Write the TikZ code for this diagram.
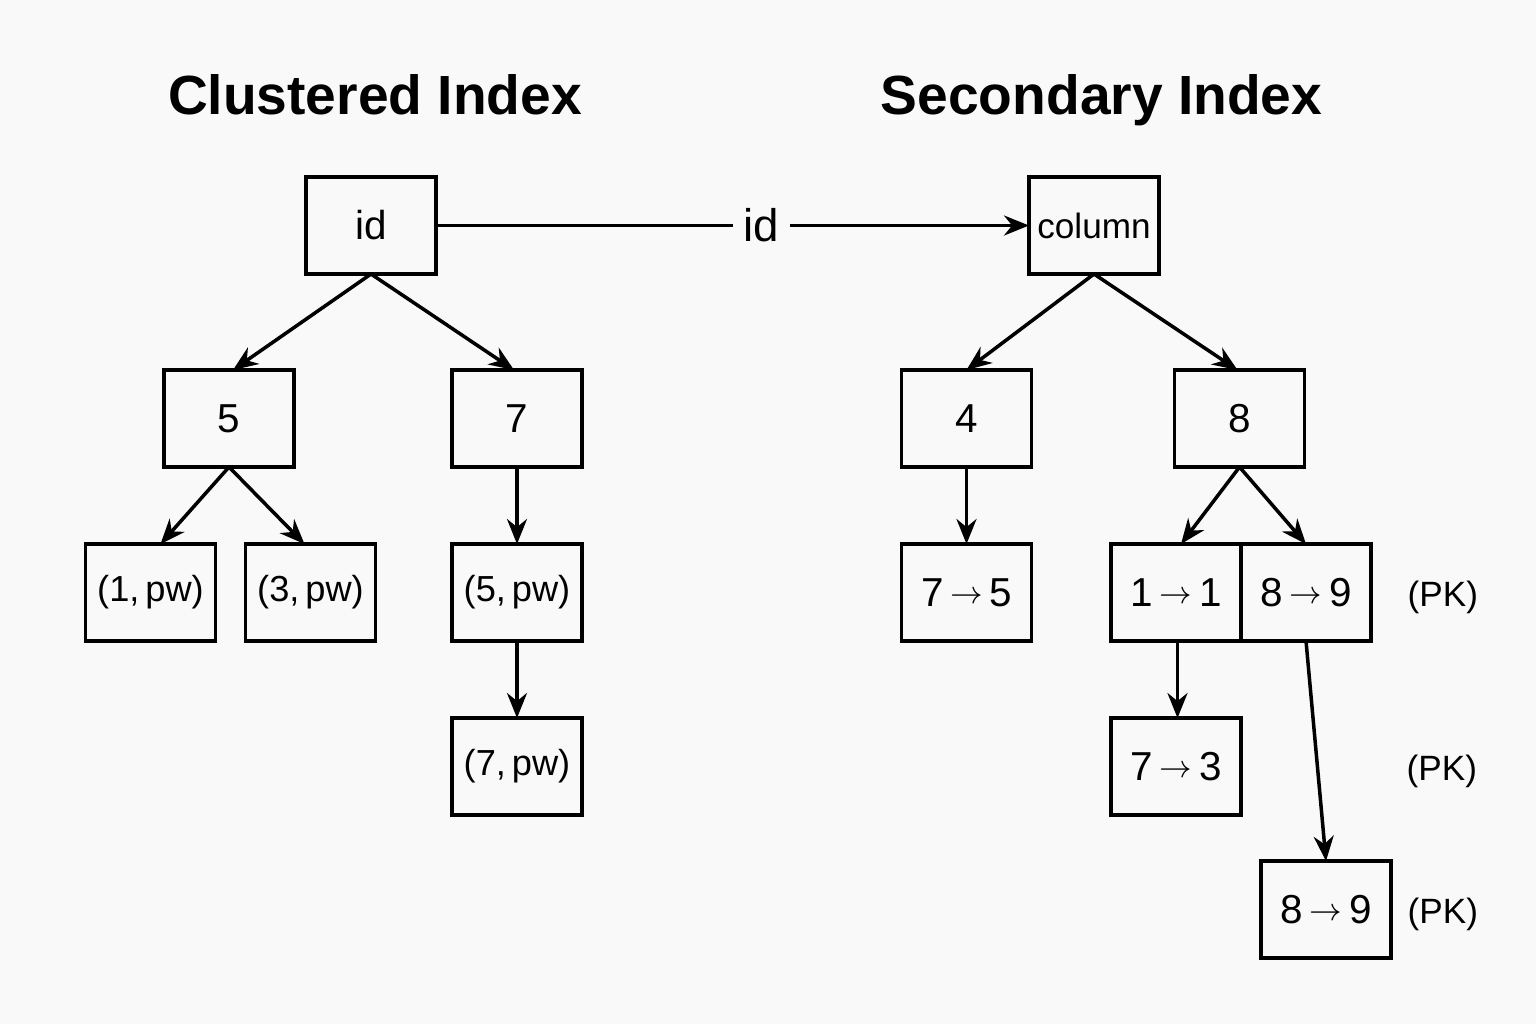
\documentclass[tikz,border=0pt]{standalone}
\usepackage{fontspec}
\setmainfont{Liberation Sans}
\usetikzlibrary{arrows.meta,positioning}
\definecolor{paper}{RGB}{249,249,249}
\newcommand{\maparrow}{\,\raisebox{0.9pt}{\fontsize{9.5}{10}\selectfont$\rightarrow$}\,}

\begin{document}
\begin{tikzpicture}[
    box/.style={draw, rectangle, minimum width=1.3cm, minimum height=0.97cm, inner sep=0pt, outer sep=0pt, line width=1pt, font=\fontsize{11.5}{14}\selectfont},
    pair/.style={box, font=\fontsize{10.3}{13}\selectfont},
    title/.style={font=\bfseries\fontsize{15.7}{19}\selectfont, inner sep=0pt, text depth=0pt},
    note/.style={inner sep=0pt, yshift=-0.05cm, font=\fontsize{10}{12}\selectfont},
    arrow/.style={-{Stealth[length=2.5mm,width=2mm]}, line width=1pt}
]
    \fill[paper] (0,0) rectangle (15.36,-10.24);
    \useasboundingbox (0,0) rectangle (15.36,-10.24);

    % Roots
    \node[box] (id) at (3.71,-2.255) {id};
    \node[right=2.97cm of id, inner sep=0.1cm, font=\fontsize{13}{15}\selectfont] (key) {id};
    \node[box, right=5.93cm of id, font=\fontsize{10}{12}\selectfont] (column) {column};

    % Titles
    \node[title, above=0.62cm of id, xshift=0.04cm] (clustered) {Clustered Index};
    \node[title, above=0.62cm of column, xshift=0.075cm] (secondary) {Secondary Index};

    % Clustered index
    \node[box, below=0.96cm of id, xshift=-1.42cm] (five) {5};
    \node[box, right=1.58cm of five] (seven) {7};
    \node[pair, below=0.77cm of five, xshift=-0.785cm] (row1) {(1,\,pw)};
    \node[pair, right=0.30cm of row1] (row3) {(3,\,pw)};
    \node[pair, below=0.77cm of seven] (row5) {(5,\,pw)};
    \node[pair, below=0.77cm of row5] (row7) {(7,\,pw)};

    % Secondary index
    \node[box, below=0.96cm of column, xshift=-1.275cm] (four) {4};
    \node[box, right=1.43cm of four] (eight) {8};
    \node[box, below=0.77cm of four] (map75) {7\maparrow 5};
    \node[box, below=0.77cm of eight, xshift=-0.635cm] (map11) {1\maparrow 1};
    \node[box, right=0pt of map11] (map89) {8\maparrow 9};
    \node[box, below=0.77cm of map11] (map73) {7\maparrow 3};
    \node[box, below=2.2cm of map89, xshift=0.2cm] (map89b) {8\maparrow 9};

    % PK notes
    \node[note, right=0.36cm of map89] (pk1) {(PK)};
    \node[note, right=1.65cm of map73] (pk2) {(PK)};
    \node[note, right=0.16cm of map89b] (pk3) {(PK)};

    % Arrows
    \draw[line width=1pt] (id) -- (key);
    \draw[arrow] (key) -- (column);

    \draw[arrow] (id.south) -- ([xshift=0.04cm]five.north);
    \draw[arrow] (id.south) -- ([xshift=-0.03cm]seven.north);
    \draw[arrow] (five.south) -- ([xshift=0.1cm]row1.north);
    \draw[arrow] (five.south) -- ([xshift=-0.06cm]row3.north);
    \draw[arrow] (seven) -- (row5);
    \draw[arrow] (row5) -- (row7);

    \draw[arrow] (column.south) -- (four.north);
    \draw[arrow] (column.south) -- ([xshift=-0.02cm]eight.north);
    \draw[arrow] (four) -- (map75);
    \draw[arrow] (eight.south) -- ([xshift=0.05cm]map11.north);
    \draw[arrow] (eight.south) -- (map89.north);
    \draw[arrow] ([xshift=0.015cm]map11.south) -- ([xshift=0.015cm]map73.north);
    \draw[arrow] (map89.south) -- (map89b.north);

\end{tikzpicture}
\end{document}
